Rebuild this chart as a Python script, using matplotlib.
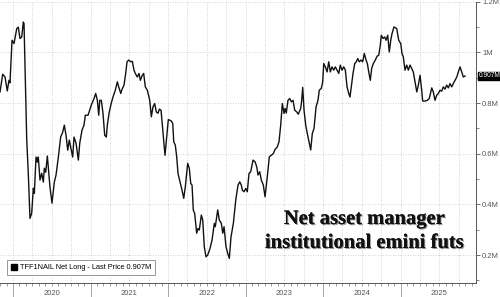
import numpy as np
import matplotlib
matplotlib.use("Agg")
import matplotlib.pyplot as plt
from matplotlib.ticker import MultipleLocator, FuncFormatter, NullFormatter
from matplotlib.patches import Patch
import matplotlib.patheffects as pe
import matplotlib.transforms as mtransforms

# 資料 (decimal year, value in millions)
t = [2019.832, 2019.867, 2019.897, 2019.926, 2019.948, 2019.961, 2019.987, 2020.013, 2020.048, 2020.068,
     2020.090, 2020.112, 2020.133, 2020.142, 2020.177, 2020.197, 2020.219, 2020.241, 2020.262, 2020.275,
     2020.297, 2020.314, 2020.326, 2020.348, 2020.370, 2020.391, 2020.404, 2020.422, 2020.443, 2020.477,
     2020.503, 2020.533, 2020.555, 2020.585, 2020.615, 2020.641, 2020.662, 2020.684, 2020.706, 2020.726,
     2020.745, 2020.770, 2020.787, 2020.813, 2020.843, 2020.861, 2020.890, 2020.916, 2020.933, 2020.968,
     2021.010, 2021.045, 2021.067, 2021.088, 2021.106, 2021.119, 2021.139, 2021.161, 2021.183, 2021.204,
     2021.217, 2021.239, 2021.268, 2021.290, 2021.320, 2021.346, 2021.364, 2021.390, 2021.406, 2021.432,
     2021.454, 2021.471, 2021.493, 2021.519, 2021.539, 2021.561, 2021.578, 2021.604, 2021.626, 2021.643,
     2021.668, 2021.686, 2021.707, 2021.733, 2021.764, 2021.785, 2021.806, 2021.828, 2021.849, 2021.871,
     2021.888, 2021.910, 2021.932, 2021.961, 2021.983, 2022.004, 2022.039, 2022.061, 2022.074, 2022.094,
     2022.112, 2022.129, 2022.155, 2022.181, 2022.203, 2022.223, 2022.254, 2022.275, 2022.293, 2022.310,
     2022.326, 2022.344, 2022.370, 2022.387, 2022.404, 2022.430, 2022.448, 2022.468, 2022.490, 2022.512,
     2022.542, 2022.568, 2022.597, 2022.610, 2022.641, 2022.662, 2022.688, 2022.706, 2022.723, 2022.748,
     2022.770, 2022.791, 2022.813, 2022.843, 2022.874, 2022.903, 2022.925, 2022.946, 2022.959, 2022.981,
     2023.003, 2023.023, 2023.045, 2023.067, 2023.097, 2023.123, 2023.145, 2023.161, 2023.183, 2023.204,
     2023.230, 2023.252, 2023.281, 2023.307, 2023.333, 2023.359, 2023.381, 2023.410, 2023.432, 2023.454,
     2023.475, 2023.497, 2023.510, 2023.526, 2023.548, 2023.570, 2023.591, 2023.613, 2023.635, 2023.661,
     2023.681, 2023.712, 2023.725, 2023.738, 2023.755, 2023.777, 2023.797, 2023.823, 2023.841, 2023.862,
     2023.884, 2023.910, 2023.935, 2023.952, 2023.978, 2023.996, 2024.009, 2024.030, 2024.052, 2024.074,
     2024.094, 2024.116, 2024.138, 2024.159, 2024.181, 2024.203, 2024.223, 2024.245, 2024.267, 2024.288,
     2024.310, 2024.332, 2024.348, 2024.365, 2024.387, 2024.409, 2024.430, 2024.448, 2024.468, 2024.490,
     2024.512, 2024.533, 2024.555, 2024.572, 2024.590, 2024.610, 2024.628, 2024.649, 2024.675, 2024.697,
     2024.719, 2024.739, 2024.752, 2024.774, 2024.796, 2024.813, 2024.835, 2024.855, 2024.874, 2024.890,
     2024.916, 2024.951, 2024.977, 2025.003, 2025.019, 2025.036, 2025.058, 2025.080, 2025.101, 2025.123,
     2025.144, 2025.165, 2025.187, 2025.210, 2025.230, 2025.252, 2025.273, 2025.286, 2025.316, 2025.346,
     2025.371, 2025.403, 2025.423, 2025.445, 2025.467, 2025.488, 2025.510, 2025.532, 2025.552, 2025.574,
     2025.596, 2025.617, 2025.639, 2025.661, 2025.681, 2025.703, 2025.726, 2025.746, 2025.768, 2025.790,
     2025.810, 2025.832]

net_long = [0.844, 0.914, 0.903, 0.848, 0.890, 0.880, 1.048, 1.035, 1.094, 1.100,
            1.055, 1.061, 1.120, 1.114, 0.654, 0.523, 0.345, 0.365, 0.464, 0.444,
            0.587, 0.567, 0.587, 0.496, 0.523, 0.488, 0.543, 0.527, 0.591, 0.468,
            0.405, 0.488, 0.516, 0.587, 0.666, 0.685, 0.713, 0.673, 0.614, 0.654,
            0.626, 0.587, 0.666, 0.642, 0.575, 0.642, 0.693, 0.713, 0.752, 0.752,
            0.792, 0.818, 0.838, 0.811, 0.752, 0.811, 0.811, 0.760, 0.673, 0.666,
            0.713, 0.760, 0.800, 0.824, 0.851, 0.884, 0.864, 0.838, 0.854, 0.871,
            0.917, 0.963, 0.970, 0.963, 0.965, 0.930, 0.917, 0.903, 0.917, 0.890,
            0.910, 0.917, 0.864, 0.851, 0.811, 0.746, 0.785, 0.798, 0.765, 0.760,
            0.776, 0.772, 0.693, 0.594, 0.667, 0.735, 0.730, 0.720, 0.647, 0.634,
            0.588, 0.522, 0.489, 0.456, 0.424, 0.469, 0.562, 0.542, 0.483, 0.476,
            0.378, 0.364, 0.286, 0.305, 0.299, 0.358, 0.338, 0.233, 0.193, 0.200,
            0.226, 0.259, 0.325, 0.312, 0.378, 0.338, 0.325, 0.286, 0.312, 0.233,
            0.207, 0.187, 0.272, 0.325, 0.417, 0.476, 0.489, 0.476, 0.456, 0.450,
            0.463, 0.450, 0.522, 0.529, 0.575, 0.568, 0.548, 0.516, 0.529, 0.496,
            0.476, 0.430, 0.509, 0.588, 0.594, 0.601, 0.617, 0.627, 0.647, 0.713,
            0.798, 0.759, 0.779, 0.761, 0.811, 0.818, 0.805, 0.811, 0.772, 0.765,
            0.756, 0.779, 0.811, 0.862, 0.772, 0.713, 0.680, 0.641, 0.615, 0.680,
            0.700, 0.785, 0.811, 0.851, 0.858, 0.884, 0.956, 0.943, 0.923, 0.963,
            0.923, 0.943, 0.930, 0.943, 0.930, 0.917, 0.950, 0.930, 0.943, 0.930,
            0.864, 0.838, 0.824, 0.864, 0.917, 0.956, 0.963, 0.976, 0.963, 0.970,
            0.963, 0.996, 0.970, 0.956, 0.923, 0.890, 0.937, 0.956, 0.970, 0.985,
            0.989, 1.028, 1.068, 1.055, 1.061, 1.048, 1.068, 1.002, 1.048, 1.074,
            1.101, 1.094, 1.048, 1.035, 0.996, 0.983, 0.930, 0.950, 0.930, 0.950,
            0.937, 0.923, 0.884, 0.844, 0.871, 0.910, 0.851, 0.808, 0.808, 0.811,
            0.818, 0.860, 0.844, 0.811, 0.831, 0.838, 0.851, 0.847, 0.864, 0.855,
            0.871, 0.860, 0.877, 0.864, 0.877, 0.890, 0.903, 0.923, 0.943, 0.923,
            0.903, 0.907]

years = [2020, 2021, 2022, 2023, 2024, 2025]
yticks = [0.2, 0.4, 0.6, 0.8, 1.0, 1.2]
last_price = 0.907
legend_label = "TFF1NAIL Net Long - Last Price 0.907M"
title_lines = ["Net asset manager", "institutional emini futs"]

small_font = ["Liberation Sans Narrow", "Liberation Sans", "DejaVu Sans"]

fig = plt.figure(figsize=(5, 2.97), dpi=100)
ax = fig.add_axes([0, 0.047, 0.952, 0.947])

ax.plot(t, net_long, color="#111111", lw=1.0, zorder=3)

ax.set_xlim(2019.832, 2025.974)
ax.set_ylim(0.0895, 1.2)

# 格線
grid_kw = dict(color="#c4c4c4", lw=0.6, ls=(0, (1, 2)), zorder=0)
for q in np.arange(2019.75, 2026.0, 0.25):
    ax.axvline(q, **grid_kw)
for yv in yticks:
    ax.axhline(yv, **grid_kw)

for s in ["top", "left"]:
    ax.spines[s].set_visible(False)
ax.spines["right"].set_color("#555555")
ax.spines["bottom"].set_color("#555555")
ax.spines["right"].set_linewidth(0.7)
ax.spines["bottom"].set_linewidth(0.7)

# y 軸 (右側)
ax.yaxis.tick_right()
ax.set_yticks(yticks)
ax.yaxis.set_minor_locator(MultipleLocator(0.1))
ax.yaxis.set_major_formatter(FuncFormatter(lambda v, p: f"{v:g}M"))
ax.tick_params(axis="y", which="major", length=3, width=0.6, color="#555555",
               labelsize=5.5, labelcolor="#555555", pad=1.5)
ax.tick_params(axis="y", which="minor", length=2, width=0.5, color="#555555")
for lab in ax.get_yticklabels():
    lab.set_family(small_font)

# x 軸
ax.xaxis.set_major_locator(MultipleLocator(1))
ax.xaxis.set_minor_locator(MultipleLocator(1 / 12))
ax.xaxis.set_major_formatter(NullFormatter())
ax.tick_params(axis="x", which="major", length=14, width=0.6, color="#999999")
ax.tick_params(axis="x", which="minor", length=2, width=0.5, color="#777777")

trans = mtransforms.blended_transform_factory(ax.transData, ax.transAxes)
for yr in years:
    ax.text(yr + 0.5, -0.036, str(yr), transform=trans, ha="center", va="center",
            fontsize=5.5, color="#555555", clip_on=False, family=small_font)

# 最後價格標籤
ax.text(1.005, last_price, f"{last_price:g}M",
        transform=mtransforms.blended_transform_factory(ax.transAxes, ax.transData),
        ha="left", va="center", fontsize=4.8, color="white", clip_on=False, family=small_font,
        bbox=dict(boxstyle="square,pad=0.1", fc="black", ec="black"))

# 圖例
leg = ax.legend(handles=[Patch(facecolor="black", edgecolor="black")], labels=[legend_label],
                loc="lower left", bbox_to_anchor=(0.0147, 0.028), borderaxespad=0,
                prop={"family": small_font, "size": 5.3}, fancybox=False, framealpha=1,
                edgecolor="#888888", handlelength=0.8, handleheight=0.8, handletextpad=0.5,
                borderpad=0.5)
leg.get_frame().set_linewidth(0.6)

# 標題文字
shadow = [pe.withSimplePatchShadow(offset=(0.8, -0.8), shadow_rgbFace="#555555", alpha=0.6), pe.Normal()]
for i, line in enumerate(title_lines):
    ax.text(0.765, 0.21 - i * 0.085, line, transform=ax.transAxes, ha="center", va="baseline",
            fontsize=14.8, fontweight="bold", family="Liberation Serif", color="#111111",
            path_effects=shadow, zorder=5)

fig.savefig("out.png", dpi=100)
